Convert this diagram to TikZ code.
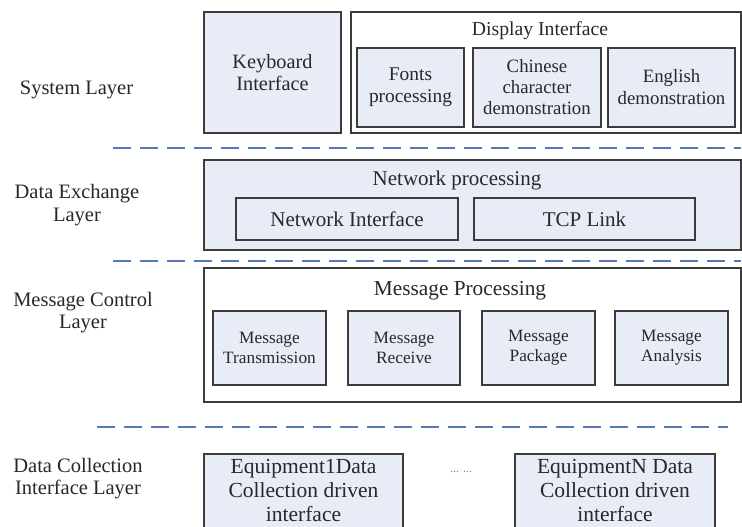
\documentclass[tikz,border=0pt]{standalone}
\usepackage{fontspec}
\setmainfont{Liberation Serif}
\definecolor{boxfill}{RGB}{231,236,246}
\definecolor{boxline}{RGB}{60,60,60}
\definecolor{sepblue}{RGB}{88,122,180}
\definecolor{ink}{RGB}{40,40,40}
\newcommand{\fsz}[2]{\fontsize{#1}{#2}\selectfont}
\tikzset{
  blk/.style={draw=boxline, line width=1.3pt, inner sep=0pt, outer sep=0pt,
              align=center, text=ink},
  shaded/.style={blk, fill=boxfill},
  plain/.style={blk, fill=white},
  sep/.style={draw=sepblue, line width=2.6pt, dash pattern=on 18pt off 9pt},
  lbl/.style={align=center, text=ink, inner sep=0pt},
}
\begin{document}
\begin{tikzpicture}[x=1pt,y=-1pt]
  \clip (0,0) rectangle (742,527);
  \fill[white] (0,0) rectangle (742,527);

  % layer names
  \node[lbl, font=\fsz{20.5}{22}] (sys)  at (76.5,90)  {System Layer};
  \node[lbl, font=\fsz{20.5}{23}] (dex)  at (77,205)   {Data Exchange\\Layer};
  \node[lbl, font=\fsz{20.5}{22}] (mcl)  at (83,313)   {Message Control\\Layer};
  \node[lbl, font=\fsz{20.5}{22}] (dcil) at (78,479)   {Data Collection\\Interface Layer};

  % system layer
  \node[shaded, minimum width=137pt, minimum height=121pt, font=\fsz{20.3}{22}]
        (kbd) at (272.5,72.5) {Keyboard\\Interface};
  \node[plain, minimum width=390pt, minimum height=121pt] (disp) at (546,72.5) {};
  \node[lbl, font=\fsz{19.7}{22}] (dispT) at (540,31) {Display Interface};
  \node[shaded, minimum width=107pt, minimum height=79pt, font=\fsz{19.4}{22}]
        (fonts) at (410.5,87.5) {Fonts\\processing};
  \node[shaded, minimum width=128pt, minimum height=79pt, font=\fsz{18.8}{21}]
        (chn) at (537,87.5) {Chinese\\character\\demonstration};
  \node[shaded, minimum width=127pt, minimum height=79pt, font=\fsz{18.8}{22}]
        (eng) at (671.5,87.5) {English\\demonstration};

  \draw[sep] (113,148) -- (741,148);

  % data exchange layer
  \node[shaded, minimum width=537pt, minimum height=90pt] (net) at (472.5,205) {};
  \node[lbl, font=\fsz{21}{22}] (netT) at (457,180) {Network processing};
  \node[shaded, minimum width=222pt, minimum height=42pt, font=\fsz{21}{22}]
        (netif) at (347,219) {Network Interface};
  \node[shaded, minimum width=221pt, minimum height=42pt, font=\fsz{21}{22}]
        (tcp) at (584.5,219) {TCP Link};

  \draw[sep] (113,261) -- (741,261);

  % message control layer
  \node[plain, minimum width=537pt, minimum height=134pt] (msg) at (472.5,335) {};
  \node[lbl, font=\fsz{21.3}{22}] (msgT) at (460,291) {Message Processing};
  \node[shaded, minimum width=113pt, minimum height=74pt, font=\fsz{17.3}{20}]
        (mtx) at (269.5,348) {Message\\Transmission};
  \node[shaded, minimum width=112pt, minimum height=74pt, font=\fsz{17.3}{20}]
        (mrx) at (404,348) {Message\\Receive};
  \node[shaded, minimum width=113pt, minimum height=74pt, font=\fsz{17.3}{20}]
        (mpk) at (538.5,348) {Message\\Package};
  \node[shaded, minimum width=113pt, minimum height=74pt, font=\fsz{17.3}{20}]
        (man) at (671.5,348) {Message\\Analysis};

  \draw[sep] (97,427) -- (728,427);

  % data collection interface layer
  \node[shaded, minimum width=199pt, minimum height=90pt] (eq1) at (303.5,499) {};
  \node[lbl, font=\fsz{21.5}{24}] (eq1T) at (303.5,490)
        {Equipment1Data\\Collection driven\\interface};
  \node[lbl, font=\fsz{12}{14}, text=gray] (dots) at (461,472) {... ...};
  \node[shaded, minimum width=200pt, minimum height=90pt] (eqN) at (615,499) {};
  \node[lbl, font=\fsz{21.5}{24}] (eqNT) at (615,490)
        {EquipmentN Data\\Collection driven\\interface};
\end{tikzpicture}
\end{document}
